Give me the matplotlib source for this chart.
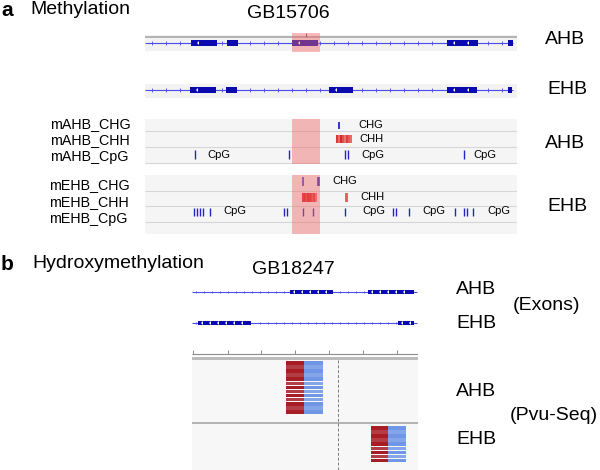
import numpy as np
import matplotlib.pyplot as plt
from matplotlib.patches import Rectangle
from matplotlib.colors import LinearSegmentedColormap

plt.rcParams['font.family'] = ['Liberation Sans', 'DejaVu Sans']

# ---- data (positions in bp, read off the browser tracks) ----
# panel a: GB15706
locus_a = (0, 3720)
gene_a = (0, 3680)
ahb_exons_a = [(460, 720), (820, 930), (1470, 1730), (3020, 3330), (3630, 3680)]
ehb_exons_a = [(450, 710), (810, 920), (1840, 2080), (3020, 3320), (3630, 3670)]
roi_a = (1470, 1750)
roi_tick = 1610

ahb_chg = [1940]
ahb_chh = [1920, 1940, 1960, 1980, 2000, 2020, 2040, 2060]
ahb_chh_level = [0.9, 0.5, 1.0, 0.7, 0.45, 0.85, 0.6, 0.5]
ahb_cpg = [500, 1440, 2000, 2030, 3190]
ehb_chg = [1580, 1730, 1740]
ehb_chh = [1580, 1595, 1610, 1625, 1640, 1655, 1670, 1690, 1710, 2005, 2020]
ehb_chh_level = [0.9, 1.0, 0.7, 1.0, 0.85, 1.0, 0.6, 0.8, 0.4, 0.45, 0.45]
ehb_cpg = [490, 520, 550, 580, 650, 1390, 1420, 1580, 1680, 2000,
           2480, 2510, 2640, 3100, 3190, 3220, 3280]

ahb_ctx_labels = [('CHG', 2130, 'chg'), ('CHH', 2140, 'chh'),
                  ('CpG', 620, 'cpg'), ('CpG', 2160, 'cpg'), ('CpG', 3280, 'cpg')]
ehb_ctx_labels = [('CHG', 1870, 'chg'), ('CHH', 2150, 'chh'),
                  ('CpG', 780, 'cpg'), ('CpG', 2170, 'cpg'),
                  ('CpG', 2770, 'cpg'), ('CpG', 3420, 'cpg')]

# panel b: GB18247
locus_b = (0, 2260)
gene_b = (0, 2250)
ahb_exons_b = [(980, 1410), (1760, 2220)]
ehb_exons_b = [(60, 590), (2060, 2220)]
ruler_ticks = [10, 360, 690, 1030, 1370, 1710, 2050]
pvu_site = 1460
ahb_pvu_read = (940, 1120, 1310)   # fwd start, split, rev end
ehb_pvu_read = (1790, 1960, 2140)
n_ahb_reads = 13
n_ehb_reads = 9

# ---- styling ----
W, H = 600, 470
EXON = '#0a0ab0'
INTRON = '#4b4bf0'
MBLUE = '#2424c8'
ROI = '#f06868'
reds = LinearSegmentedColormap.from_list('m', ['#f6a0a0', '#d40000'])

fig = plt.figure(figsize=(W / 100, H / 100), dpi=100)


def px_axes(x0, x1, y0, y1, xlim):
    ax = fig.add_axes([x0 / W, 1 - y1 / H, (x1 - x0) / W, (y1 - y0) / H])
    ax.set_xlim(*xlim)
    ax.set_ylim(y1, y0)
    ax.axis('off')
    return ax


def label(x, y, s, size=14, **kw):
    fig.text(x / W, 1 - y / H, s, size=size, va='center', **kw)


def gene_track(ax, y, exons, span, h, step, tick_ms=3):
    ax.hlines(y, span[0], span[1], color=INTRON, lw=0.8, zorder=2)
    ticks = [t for t in np.arange(span[0] + step / 2, span[1], step)
             if not any(s - 10 <= t <= e + 10 for s, e in exons)]
    ax.plot(ticks, [y] * len(ticks), '|', color=INTRON, ms=tick_ms, mew=0.6, zorder=2)
    for s, e in exons:
        ax.add_patch(Rectangle((s, y - h / 2), e - s, h, color=EXON, lw=0, zorder=3))
        for c in np.arange(s + step * 0.6, e - step * 0.3, step):
            ax.plot(c, y, marker=8, ms=2.2, color='white', mew=0, zorder=4)


# ================= panel a =================
label(1, 11, 'a', size=15, weight='bold')
label(30, 10, 'Methylation')
label(247, 13, 'GB15706')

ax_a = px_axes(145, 517, 28, 236, locus_a)
L = locus_a[1]

# AHB gene track
ax_a.add_patch(Rectangle((0, 35), L, 16, color='#f2f2f2', lw=0, zorder=0))
ax_a.add_patch(Rectangle((0, 36), L, 2, color='#b4b4b4', lw=0, zorder=1))
ax_a.vlines(roi_tick, 33, 37, color='#8a4a4a', lw=0.8, zorder=2)
gene_track(ax_a, 43, ahb_exons_a, gene_a, 6, 140)
ax_a.add_patch(Rectangle((roi_a[0], 33), roi_a[1] - roi_a[0], 19,
                         color=ROI, alpha=0.45, lw=0, zorder=5))
label(545, 40, 'AHB', size=14)

# EHB gene track
ax_a.add_patch(Rectangle((0, 84), L, 14, color='#f2f2f2', lw=0, zorder=0))
gene_track(ax_a, 90, ehb_exons_a, gene_a, 6, 140)
label(547, 89, 'EHB', size=14)


def meth_box(top, bottom, lines):
    ax_a.add_patch(Rectangle((0, top), L, bottom - top, color='#f5f5f5', lw=0, zorder=0))
    ax_a.hlines(lines, 0, L, color='#d6d6d6', lw=0.8, zorder=1)
    ax_a.add_patch(Rectangle((roi_a[0], top), roi_a[1] - roi_a[0], bottom - top,
                             color=ROI, alpha=0.45, lw=0, zorder=5))


# AHB methylation
meth_box(119, 164, [131.5, 147.5, 163.5])
rows = {'chg': (122, 129), 'chh': (135, 143), 'cpg': (150, 159)}
ax_a.vlines(ahb_chg, *rows['chg'], color=MBLUE, lw=1.3, zorder=3)
ax_a.vlines(ahb_chh, *rows['chh'], colors=reds(ahb_chh_level), lw=1.2, zorder=3)
ax_a.vlines(ahb_cpg, *rows['cpg'], color=MBLUE, lw=1.0, zorder=3)
for s, x, r in ahb_ctx_labels:
    ax_a.text(x, sum(rows[r]) / 2, s, size=8, va='center', zorder=6)
for s, y in [('mAHB_CHG', 124), ('mAHB_CHH', 140), ('mAHB_CpG', 157)]:
    label(50, y, s, size=10.3)
label(545, 144, 'AHB', size=14)

# EHB methylation
meth_box(175, 234, [191, 206.5, 222])
rows = {'chg': (177, 186), 'chh': (193, 202), 'cpg': (208, 216.5)}
ax_a.vlines(ehb_chg, *rows['chg'], color=MBLUE, lw=1.1, zorder=3)
ax_a.vlines(ehb_chh, *rows['chh'], colors=reds(ehb_chh_level), lw=1.3, zorder=3)
ax_a.vlines(ehb_cpg, *rows['cpg'], color=MBLUE, lw=1.0, zorder=3)
for s, x, r in ehb_ctx_labels:
    ax_a.text(x, sum(rows[r]) / 2 - 1, s, size=8, va='center', zorder=6)
for s, y in [('mEHB_CHG', 185), ('mEHB_CHH', 202), ('mEHB_CpG', 219)]:
    label(49, y, s, size=10.3)
label(547, 206, 'EHB', size=14)

# ================= panel b =================
label(1, 264, 'b', size=15, weight='bold')
label(32, 264, 'Hydroxymethylation')
label(252, 270, 'GB18247')

ax_b = px_axes(192, 418, 280, 470, locus_b)
Lb = locus_b[1]

gene_track(ax_b, 292, ahb_exons_b, gene_b, 4.5, 80, tick_ms=2)
gene_track(ax_b, 323, ehb_exons_b, gene_b, 4.5, 80, tick_ms=2)
label(456, 289, 'AHB', size=14)
label(456, 323, 'EHB', size=14)
label(513, 305, '(Exons)', size=14)

# ruler
ax_b.hlines(354, 0, Lb, color='#8c8c8c', lw=0.8)
ax_b.vlines(ruler_ticks, 350, 354, color='#8c8c8c', lw=0.7)
ax_b.add_patch(Rectangle((0, 356.5), Lb, 3, color='#bcbcbc', lw=0))

# Pvu-Seq read tracks
ax_b.add_patch(Rectangle((0, 360), Lb, 110, color='#f7f7f7', lw=0, zorder=0))
ax_b.add_patch(Rectangle((0, 422), Lb, 2, color='#b4b4b4', lw=0, zorder=1))
ax_b.vlines(pvu_site, 360, 470, color='#7a7a7a', lw=0.7,
            linestyles=(0, (3, 2)), zorder=1)


def reads(read, n, top, step=4.1):
    s, m, e = read
    for i in range(n):
        y = top + i * step
        shade = 1.0 if i % 2 == 0 else 0.85
        ax_b.add_patch(Rectangle((s, y), m - s, step - 0.6, color='#a81c24',
                                 alpha=shade, lw=0, zorder=2))
        ax_b.add_patch(Rectangle((m, y), e - m, step - 0.6, color='#7097e6',
                                 alpha=shade, lw=0, zorder=2))


reads(ahb_pvu_read, n_ahb_reads, 361)
reads(ehb_pvu_read, n_ehb_reads, 426)
label(456, 392, 'AHB', size=14)
label(456, 439, 'EHB', size=14)
label(510, 416, '(Pvu-Seq)', size=14)

fig.savefig('out.png', dpi=100)
